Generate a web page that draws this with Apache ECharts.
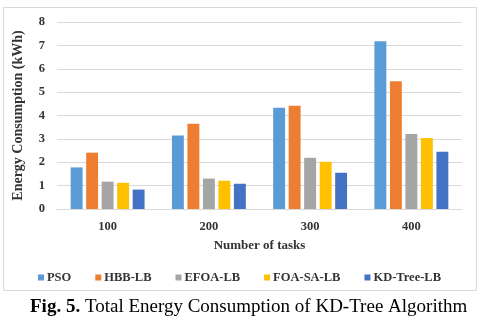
<!DOCTYPE html>
<html><head><meta charset="utf-8">
<script src="https://cdn.jsdelivr.net/npm/echarts@6/dist/echarts.min.js"></script>
<style>html,body{margin:0;padding:0;background:#fff}#c{width:479px;height:316px}</style>
</head><body><div id="c"></div>
<script>
const categories = ['100', '200', '300', '400'];
const seriesNames = ['PSO', 'HBB-LB', 'EFOA-LB', 'FOA-SA-LB', 'KD-Tree-LB'];
const pso = [1.78, 3.14, 4.33, 7.18];
const hbb = [2.41, 3.65, 4.42, 5.47];
const efoa = [1.17, 1.30, 2.19, 3.21];
const foasa = [1.12, 1.21, 2.02, 3.04];
const kdtree = [0.83, 1.08, 1.55, 2.45];
const yTicks = [0, 1, 2, 3, 4, 5, 6, 7, 8];
const colors = ['#5B9BD5', '#ED7D31', '#A5A5A5', '#FFC000', '#4472C4'];
const values = [pso, hbb, efoa, foasa, kdtree];
const font = '"Liberation Serif", "Times New Roman", serif';

const chart = echarts.init(document.getElementById('c'), null, {renderer: 'canvas'});
chart.setOption({
  animation: false,
  color: colors,
  grid: {left: 57, right: 17, top: 22, bottom: 107, containLabel: false},
  legend: {
    data: seriesNames,
    bottom: 27,
    left: 'center',
    itemWidth: 6, itemHeight: 6, itemGap: 24,
    icon: 'rect',
    textStyle: {fontFamily: font, fontWeight: 'bold', fontSize: 12.5, color: '#333', padding: [0, 0, 0, -2]}
  },
  xAxis: {
    type: 'category',
    data: categories,
    name: 'Number of tasks',
    nameLocation: 'middle',
    nameGap: 30,
    nameTextStyle: {fontFamily: font, fontWeight: 'bold', fontSize: 13, color: '#333'},
    axisLine: {show: true, lineStyle: {color: '#d9d9d9'}},
    axisTick: {show: false},
    axisLabel: {fontFamily: font, fontWeight: 'bold', fontSize: 12.5, color: '#333', margin: 11}
  },
  yAxis: {
    type: 'value',
    min: yTicks[0], max: yTicks[yTicks.length - 1], interval: 1,
    name: 'Energy Consumption (kWh)',
    nameLocation: 'middle',
    nameGap: 32,
    nameRotate: 90,
    nameTextStyle: {fontFamily: font, fontWeight: 'bold', fontSize: 14, color: '#333'},
    axisLine: {show: false},
    axisTick: {show: false},
    splitLine: {lineStyle: {color: '#d9d9d9', width: 1}},
    axisLabel: {fontFamily: font, fontWeight: 'bold', fontSize: 12.5, color: '#333', margin: 12}
  },
  series: seriesNames.map((n, i) => ({
    name: n,
    type: 'bar',
    data: values[i],
    barGap: '30%',
    barCategoryGap: '27%',
    itemStyle: {color: colors[i]}
  })),
  graphic: [
    {type: 'rect', shape: {x: 3.5, y: 7.5, width: 473, height: 283}, style: {fill: 'none', stroke: '#d9d9d9', lineWidth: 1}, z: -1},
    {type: 'text', left: 30, top: 298, style: {
      text: '{b|Fig. 5.} Total Energy Consumption of KD-Tree Algorithm',
      rich: {b: {fontFamily: font, fontWeight: 'bold', fontSize: 19, fill: '#000'}},
      fontFamily: font, fontSize: 19, fill: '#000'
    }}
  ]
});
</script></body></html>
